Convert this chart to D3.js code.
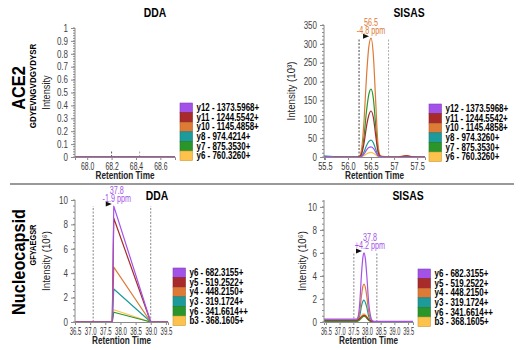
<!DOCTYPE html>
<html><head><meta charset="utf-8">
<script src="https://cdn.jsdelivr.net/npm/d3@7/dist/d3.min.js"></script>
<style>
body{margin:0;background:#fff;}
svg{display:block;}
text{font-family:"Liberation Sans",Arial,"DejaVu Sans",sans-serif;}
</style></head>
<body><svg id="c" width="520" height="350"></svg>
<script>
// ---------- data ----------
const colors = ["#a352e8","#a82a2a","#dd7a35","#1d9a9a","#2a962a","#fcc24c"];
const aceLegendDDA = ["y12 - 1373.5968+","y11 - 1244.5542+","y10 - 1145.4858+","y8 - 974.4214+","y7 - 875.3530+","y6 - 760.3260+"];
const aceLegendSISAS = ["y12 - 1373.5968+","y11 - 1244.5542+","y10 - 1145.4858+","y8 - 974.3260+","y7 - 875.3530+","y6 - 760.3260+"];
const ncLegend = ["y6 - 682.3155+","y5 - 519.2522+","y4 - 448.2150+","y3 - 319.1724+","y6 - 341.6614++","b3 - 368.1605+"];

// ACE2 DDA (all zero)
const aceDdaTimes = [67.90, 68.00, 68.20, 68.43, 68.60, 68.72];
const aceDdaValues = [
  [0,0,0,0,0,0],[0,0,0,0,0,0],[0,0,0,0,0,0],
  [0,0,0,0,0,0],[0,0,0,0,0,0],[0,0,0,0,0,0]
];
const aceDdaTicksX = [68.0, 68.2, 68.4, 68.6];
const aceDdaTicksY = [0,0.1,0.2,0.3,0.4,0.5,0.6,0.7,0.8,0.9,1];

// ACE2 SISAS (10^3)
const aceSisTimes = [55.48,55.6,55.75,55.9,56.05,56.2,56.25,56.3,56.35,56.4,56.45,56.5,56.55,56.6,56.65,56.7,56.8,56.95,57.1,57.2,57.28,57.35,57.5,57.67];
const aceSisValues = [
  [1,1,0,0,0,0,0,2,8,18,25,27,23,13,3,1,0,0,0,0,0,0,0,0],          // y12
  [1,0,0,0,0,0,1,10,38,80,110,122,105,58,14,2,0,0,0,2,3,1,0,0],      // y11
  [1,1,0,0,0,0,2,25,100,210,290,315,270,150,35,4,1,0,1,3,4,2,0,0],   // y10
  [3,2,1,0,0,0,0,4,14,30,41,45,38,21,5,1,0,0,0,0,1,0,0,0],           // y8
  [1,0,0,0,0,0,1,14,57,120,165,180,155,85,20,2,0,0,0,1,2,1,0,0],     // y7
  [0,0,0,0,0,0,0,1,4,8,11,12,10,6,1,0,0,0,0,0,0,0,0,0]               // y6
];
const aceSisTicksX = [55.5, 56.0, 56.5, 57, 57.5];
const aceSisTickLabelsX = ["55.5","56.0","56.5","57","57.5"];
const aceSisTicksY = [0,50,100,150,200,250,300,350];

// Nucleocapsid DDA (10^6)
const ncDdaTimes = [36.5, 37.0, 37.5, 37.73, 37.78, 39.0, 39.57];
const ncDdaValues = [
  [0,0,0,0,9.5,0,0],
  [0,0,0,0,8.5,0,0],
  [0,0,0,0,4.5,0,0],
  [0,0,0,0,2.7,0,0],
  [0,0,0,0,0.8,0,0],
  [0,0,0,0,1.0,0,0]
];
// Nucleocapsid SISAS (10^6)
const ncSisTimes = [36.43,36.8,37.2,37.5,37.62,37.68,37.74,37.8,37.85,37.89,37.94,38.0,38.06,38.13,38.2,38.3,38.6,39.0,39.4,39.68];
const ncSisValues = [
  [0.25,0.25,0.25,0.25,0.25,0.5,1.8,4.2,5.6,6.0,5.5,3.8,1.7,0.5,0.1,0.05,0.05,0.05,0.05,0.05],
  [0.15,0.15,0.15,0.15,0.15,0.2,0.3,0.45,0.55,0.6,0.55,0.4,0.2,0.1,0.05,0.03,0.03,0.03,0.03,0.03],
  [0.18,0.18,0.18,0.18,0.18,0.3,1.0,2.3,3.1,3.3,3.0,2.1,0.9,0.3,0.05,0.03,0.03,0.03,0.03,0.03],
  [0.12,0.12,0.12,0.12,0.12,0.2,0.6,1.4,1.8,1.9,1.7,1.2,0.5,0.15,0.03,0.02,0.02,0.02,0.02,0.02],
  [0.06,0.06,0.06,0.06,0.06,0.1,0.2,0.35,0.45,0.5,0.45,0.3,0.15,0.05,0.02,0.01,0.01,0.01,0.01,0.01],
  [0.1,0.1,0.1,0.1,0.1,0.15,0.3,0.55,0.68,0.7,0.65,0.45,0.2,0.08,0.02,0.01,0.01,0.01,0.01,0.01]
];
const ncTicksX = [36.5,37.0,37.5,38.0,38.5,39.0,39.5];
const ncTicksY = [0,2,4,6,8,10];

// ---------- drawing ----------
const svg = d3.select("#c");
const AX = "#8a8a8a";

// horizontal condense of text (the reference uses a condensed face)
function sq(sel, f){
  sel.each(function(){
    const x = +(this.getAttribute("x")||0);
    const t = this.getAttribute("transform")||"";
    this.setAttribute("transform", `${t} translate(${(x*(1-f)).toFixed(2)},0) scale(${f},1)`.trim());
  });
  return sel;
}

function panel(o){
  const x = d3.scaleLinear().domain(o.xd).range(o.xr);
  const y = d3.scaleLinear().domain(o.yd).range(o.yr);
  const g = svg.append("g");
  (o.bounds||[]).forEach(b=>{
    g.append("line").attr("x1",x(b.t)).attr("x2",x(b.t))
     .attr("y1",y(0)).attr("y2",y(b.top))
     .attr("stroke",b.c).attr("stroke-width",1).attr("stroke-dasharray","2,1.5");
  });
  const line = d3.line().x((d,i)=>x(o.times[i])).y(d=>y(d)).curve(o.curve||d3.curveLinear);
  for(let s=o.values.length-1;s>=0;s--){
    g.append("path").attr("d",line(o.values[s])).attr("fill","none")
     .attr("stroke",colors[s]).attr("stroke-width",1.2).attr("stroke-linejoin","round");
  }
  const ya = d3.axisLeft(y).tickValues(o.yt).tickSize(4).tickPadding(3).tickFormat(o.yf||(d=>d));
  const yg = g.append("g").attr("transform",`translate(${o.xr[0]},0)`).call(ya);
  yg.select(".domain").attr("stroke",AX).attr("d",`M0,${y(0)}V${o.yr[1]}`);
  yg.selectAll(".tick line").attr("stroke",AX);
  sq(yg.selectAll("text").attr("font-size",10).attr("fill","#444"), 0.8);
  const ymin = d3.range(o.yd[0],o.yd[1]+1e-9,o.ym);
  g.selectAll(null).data(ymin).enter().append("line")
   .attr("x1",o.xr[0]-2).attr("x2",o.xr[0]).attr("y1",d=>y(d)).attr("y2",d=>y(d)).attr("stroke",AX);
  const xa = d3.axisBottom(x).tickValues(o.xt).tickSize(3).tickPadding(3)
     .tickFormat((d,i)=>o.xl?o.xl[i]:d3.format(".1f")(d));
  const xg = g.append("g").attr("transform",`translate(0,${y(0)})`).call(xa);
  xg.select(".domain").attr("stroke",AX);
  xg.selectAll(".tick line").attr("stroke",AX);
  sq(xg.selectAll("text").attr("font-size",10).attr("fill","#333"), o.xsq);
  sq(g.append("text").attr("x",o.titleX).attr("y",o.titleY).attr("text-anchor","middle")
   .attr("font-size",13).attr("font-weight","bold").text(o.title), 0.8);
  sq(g.append("text").attr("x",(o.xr[0]+o.xr[1])/2).attr("y",y(0)+22).attr("text-anchor","middle")
   .attr("font-size",10.5).attr("font-weight","bold").attr("fill","#222").text("Retention Time"), 0.78);
  sq(g.append("text").attr("transform",`translate(${o.ylX},${(y(0)+o.yr[1])/2}) rotate(-90)`)
   .attr("text-anchor","middle").attr("font-size",10.5).attr("fill","#222").text(o.ylab), o.ylsq);
  const lg = g.append("g").attr("transform",`translate(${o.legX},${o.legY})`);
  o.legend.forEach((t,i)=>{
    lg.append("rect").attr("x",0).attr("y",i*9.6).attr("width",12.5).attr("height",9.6)
      .attr("fill",colors[i]).attr("stroke",d3.color(colors[i]).darker(0.6)).attr("stroke-width",0.6);
    sq(lg.append("text").attr("x",16.5).attr("y",i*9.6+8.2).attr("font-size",10.5)
      .attr("font-weight","bold").text(t), 0.76);
  });
  if(o.peak){
    const px = x(o.peak.t), py = y(o.peak.v);
    g.append("path").attr("d",`M${px-8},${py-4.5}L${px-2},${py-2}L${px-8},${py+0.5}Z`).attr("fill","#111");
    sq(g.append("text").attr("x",px+o.peak.dx).attr("y",py-o.peak.dy).attr("text-anchor","middle")
      .attr("font-size",10).attr("fill",o.peak.c).text(o.peak.l1), 0.72);
    sq(g.append("text").attr("x",px+o.peak.dx).attr("y",py-o.peak.dy+8).attr("text-anchor","middle")
      .attr("font-size",10).attr("fill",o.peak.c).text(o.peak.l2), 0.72);
  }
}

panel({xd:[67.90,68.72], xr:[75,175], yd:[0,1], yr:[157,28], times:aceDdaTimes, values:aceDdaValues,
  xt:aceDdaTicksX, yt:aceDdaTicksY, ym:0.02, yf:d=>d===0||d===1?String(d):d3.format(".1f")(d), xsq:0.68,
  title:"DDA", titleX:155, titleY:17, ylab:"Intensity", ylX:50, ylsq:0.88, legX:180, legY:103, legend:aceLegendDDA,
  bounds:[{t:68.2,top:0.05,c:"#555"},{t:68.43,top:0.05,c:"#aaa"}]});

panel({xd:[55.48,57.67], xr:[324,425], yd:[0,350], yr:[157,25], times:aceSisTimes, values:aceSisValues,
  xt:aceSisTicksX, xl:aceSisTickLabelsX, yt:aceSisTicksY, ym:10, curve:d3.curveMonotoneX, xsq:0.74,
  title:"SISAS", titleX:409, titleY:17, ylab:"Intensity (10³)", ylX:295, ylsq:0.92, legX:429, legY:104, legend:aceLegendSISAS,
  bounds:[{t:56.24,top:313,c:"#444"},{t:56.88,top:313,c:"#aaa"}],
  peak:{t:56.5,v:315,c:"#dd7a35",l1:"56.5",l2:"-4.8 ppm",dx:0,dy:12}});

panel({xd:[36.5,39.57], xr:[75,168], yd:[0,10], yr:[322,200], times:ncDdaTimes, values:ncDdaValues,
  xt:ncTicksX, yt:ncTicksY, ym:0.5, xsq:0.6,
  title:"DDA", titleX:157, titleY:200, ylab:"Intensity (10⁶)", ylX:50, ylsq:0.92, legX:173, legY:268, legend:ncLegend,
  bounds:[{t:37.1,top:9.5,c:"#888"},{t:39.0,top:9.5,c:"#888"}],
  peak:{t:37.78,v:9.5,c:"#a352e8",l1:"37.8",l2:"-1.9 ppm",dx:3,dy:12}});

panel({xd:[36.43,39.68], xr:[324,413], yd:[0,10.6], yr:[322,200], times:ncSisTimes, values:ncSisValues,
  xt:ncTicksX, yt:ncTicksY, ym:0.5, curve:d3.curveMonotoneX, xsq:0.56,
  title:"SISAS", titleX:408, titleY:200, ylab:"Intensity (10⁶)", ylX:306, ylsq:0.92, legX:418, legY:269, legend:ncLegend,
  bounds:[{t:37.52,top:6.0,c:"#888"},{t:38.36,top:6.0,c:"#888"}],
  peak:{t:37.89,v:6.0,c:"#a352e8",l1:"37.8",l2:"+4.2 ppm",dx:6,dy:12}});

function rowLabel(name, seq, cy, cy2, f2){
  sq(svg.append("text").attr("transform",`translate(25,${cy}) rotate(-90)`).attr("text-anchor","middle")
    .attr("font-size",19).attr("font-weight","bold").text(name), 0.86);
  sq(svg.append("text").attr("transform",`translate(36,${cy2}) rotate(-90)`).attr("text-anchor","middle")
    .attr("font-size",9.5).attr("font-weight","bold").text(seq), f2);
}
rowLabel("ACE2","GDYEVNGVDGYDYSR",88,86,0.84);
rowLabel("Nucleocapsid","GFYAEGSR",262,245,0.78);

svg.append("line").attr("x1",10).attr("x2",514).attr("y1",184).attr("y2",184)
  .attr("stroke","#999").attr("stroke-width",2);
</script></body></html>
